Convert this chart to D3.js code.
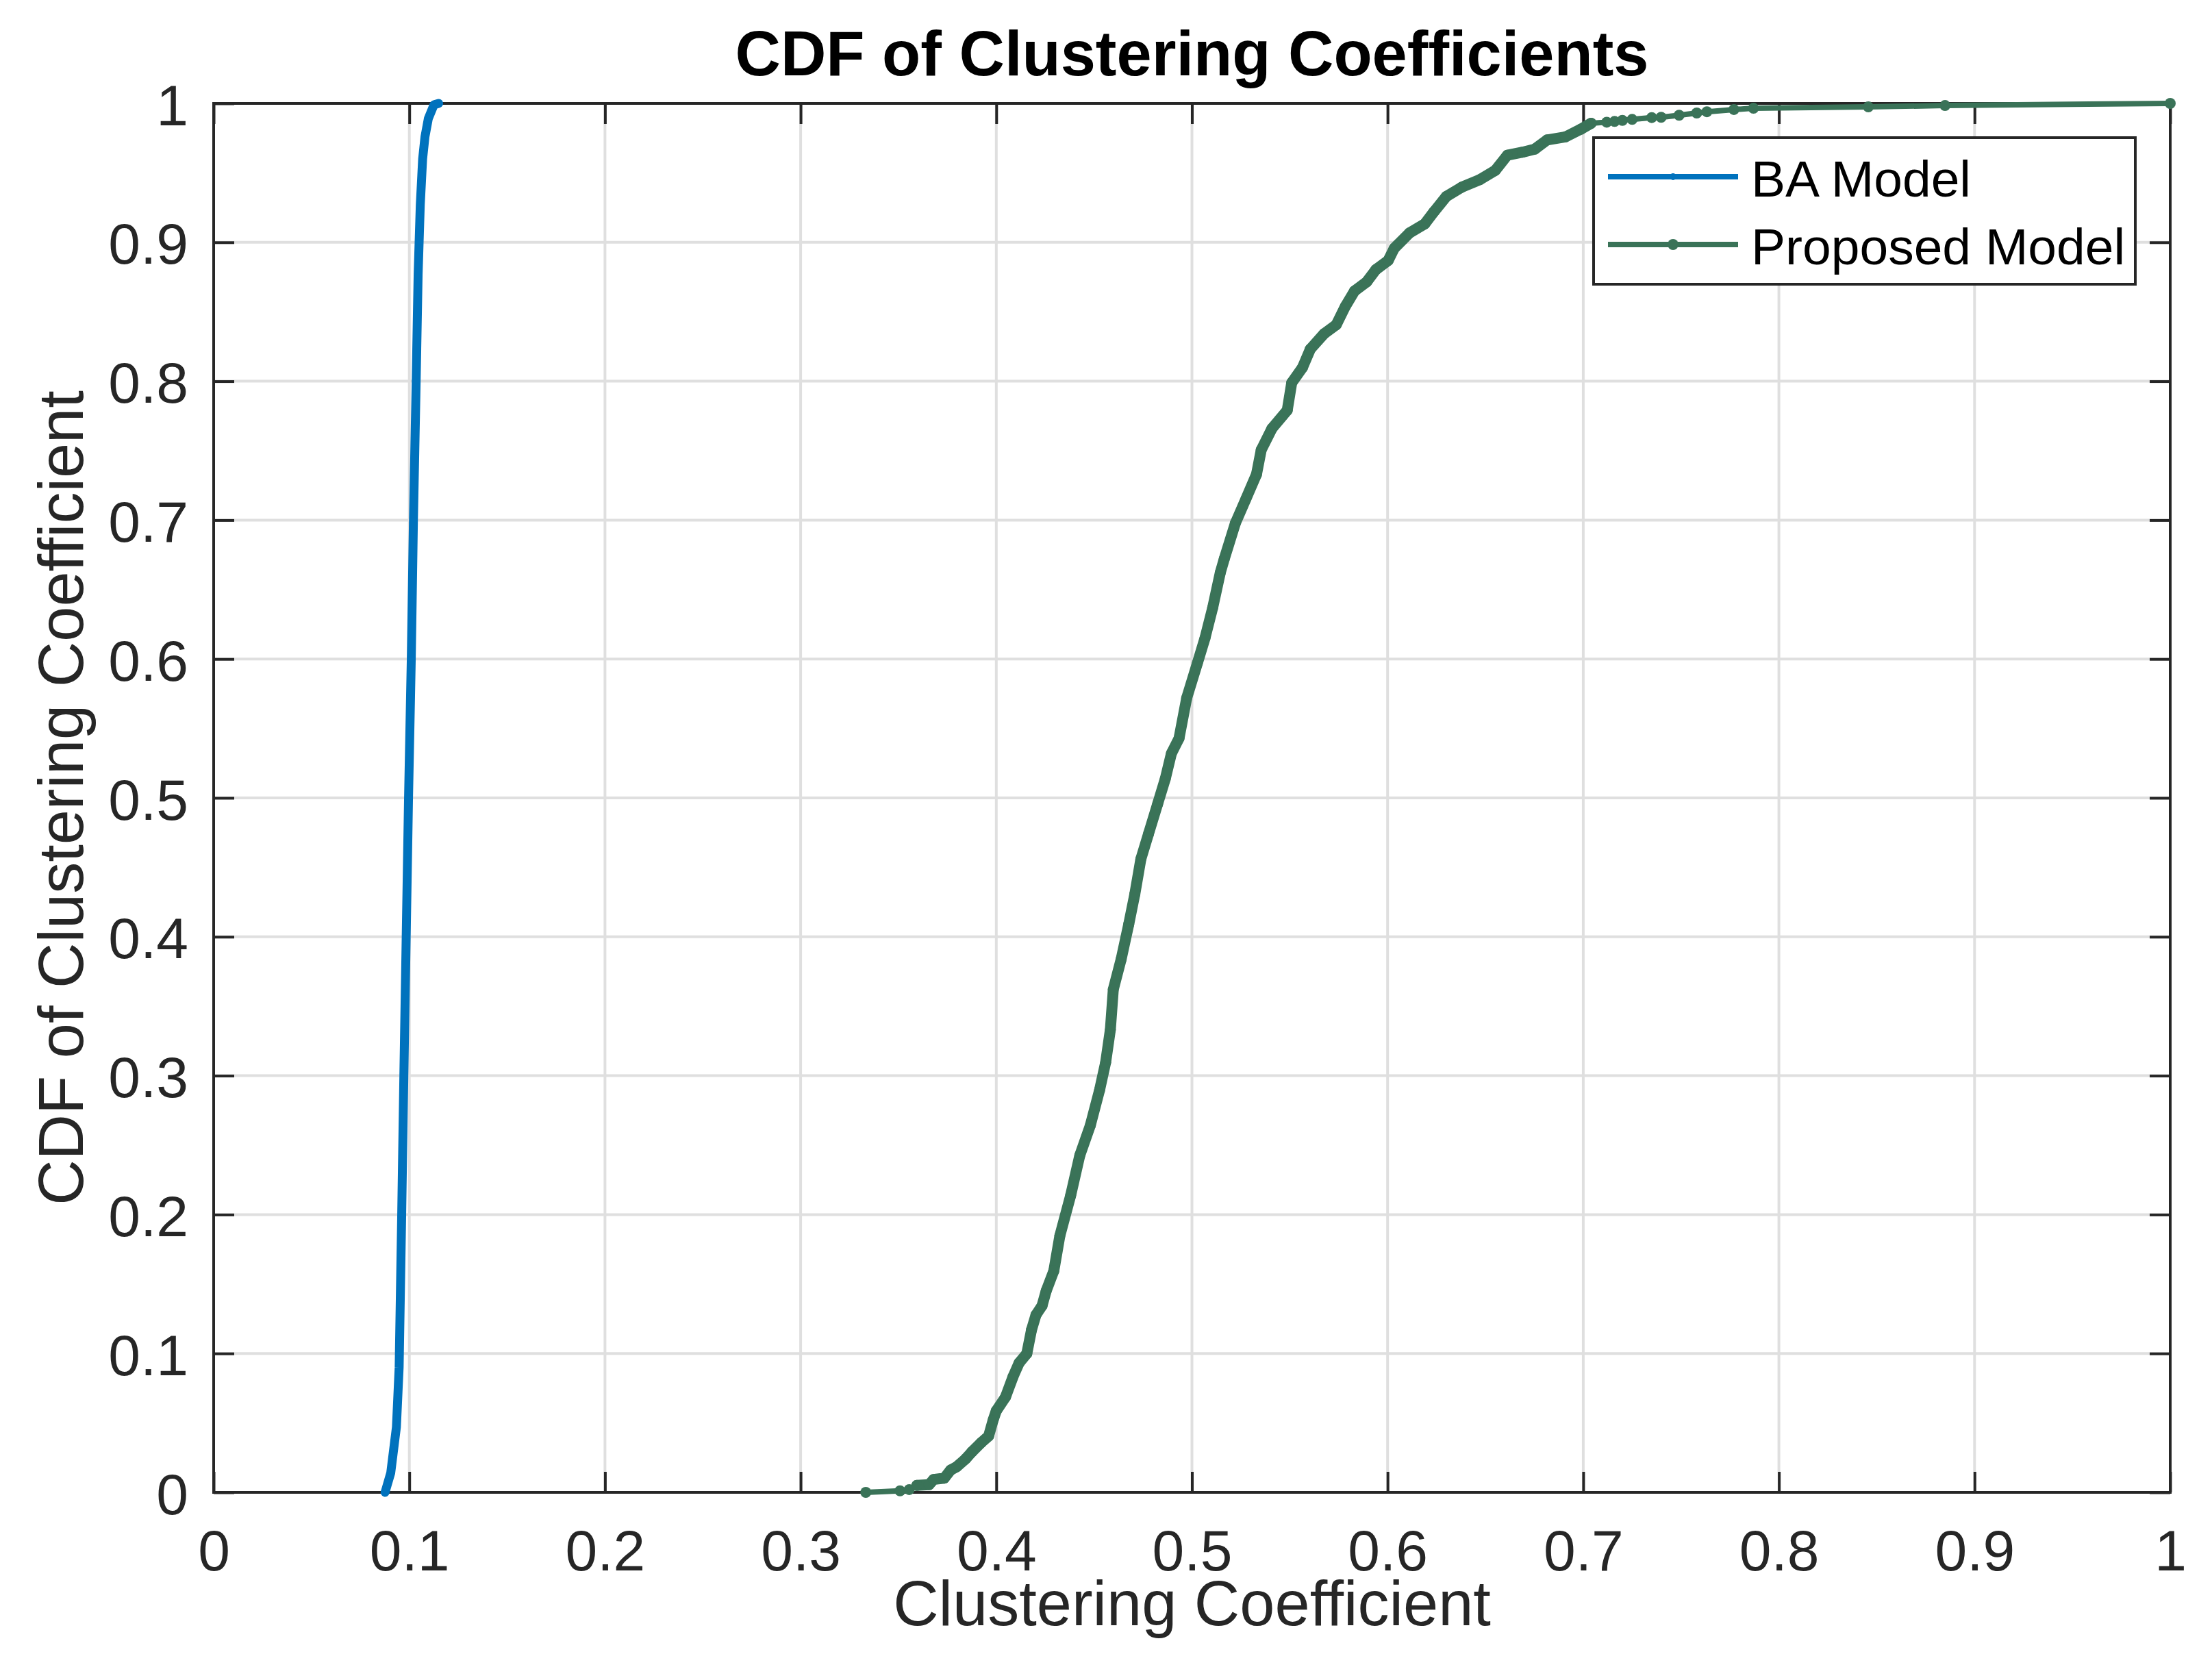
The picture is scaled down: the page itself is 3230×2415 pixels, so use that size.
<!DOCTYPE html>
<html>
<head>
<meta charset="utf-8">
<script src="https://cdn.jsdelivr.net/npm/d3@7"></script>
<style>
  body { margin: 0; background: #fff; }
  text { font-family: "Liberation Sans", Arial, Helvetica, sans-serif; }
</style>
</head>
<body>
<div id="chart"></div>
<script>
// values
var xTicks = [0, 0.1, 0.2, 0.3, 0.4, 0.5, 0.6, 0.7, 0.8, 0.9, 1];
var yTicks = [0, 0.1, 0.2, 0.3, 0.4, 0.5, 0.6, 0.7, 0.8, 0.9, 1];
var xTickLabels = ["0", "0.1", "0.2", "0.3", "0.4", "0.5", "0.6", "0.7", "0.8", "0.9", "1"];
var yTickLabels = ["0", "0.1", "0.2", "0.3", "0.4", "0.5", "0.6", "0.7", "0.8", "0.9", "1"];
var seriesNames = ["BA Model", "Proposed Model"];

var baX = [0.0876, 0.0905, 0.0934, 0.0948, 0.0961, 0.0972, 0.0984, 0.0996, 0.1010, 0.1021, 0.1035, 0.1045, 0.1056, 0.1068, 0.1080, 0.1097, 0.1126, 0.1150];
var baY = [0, 0.014, 0.047, 0.09, 0.2, 0.3, 0.4, 0.5, 0.6, 0.7, 0.8, 0.877, 0.927, 0.96, 0.976, 0.989, 0.999, 1];

var propX = [0.3333, 0.3508, 0.3555, 0.3594, 0.3656, 0.3680, 0.3734, 0.3766, 0.3797, 0.3844, 0.3875, 0.3922, 0.3961, 0.3984, 0.4000,
  0.4047, 0.4086, 0.4117, 0.4156, 0.4180, 0.4203, 0.4234, 0.4255, 0.4294, 0.4325, 0.4380, 0.4427, 0.4481, 0.4528, 0.4559,
  0.4583, 0.4598, 0.4638, 0.4677, 0.4708, 0.4739, 0.4778, 0.4825, 0.4864, 0.4895, 0.4934, 0.4973, 0.5028, 0.5067, 0.5106,
  0.5145, 0.5165, 0.5222, 0.5276, 0.5330, 0.5354, 0.5409, 0.5487, 0.5510, 0.5565, 0.5605, 0.5675, 0.5738, 0.5784, 0.5831,
  0.5893, 0.5940, 0.6003, 0.6034, 0.6112, 0.6190, 0.6237, 0.6300, 0.6378, 0.6471, 0.6550, 0.6612, 0.6690, 0.6752, 0.6815,
  0.6909, 0.6987, 0.7040, 0.7120, 0.7160, 0.7200, 0.7250, 0.7350, 0.7398, 0.7490, 0.7580, 0.7632, 0.7770, 0.7870, 0.8457,
  0.8849, 1.0];
var propY = [0, 0.0011, 0.0020, 0.0050, 0.0055, 0.0093, 0.0102, 0.0160, 0.0184, 0.0242, 0.0291, 0.0357, 0.0406, 0.0521, 0.0587,
  0.0686, 0.0834, 0.0933, 0.0999, 0.1170, 0.1278, 0.1344, 0.1450, 0.1595, 0.1848, 0.2137, 0.2427, 0.2644, 0.2897, 0.3096,
  0.3331, 0.3620, 0.3837, 0.4090, 0.4307, 0.4560, 0.4741, 0.4958, 0.5139, 0.5320, 0.5429, 0.5718, 0.5971, 0.6152, 0.6369,
  0.6622, 0.6720, 0.6978, 0.7153, 0.7330, 0.7505, 0.7660, 0.7790, 0.7989, 0.8099, 0.8231, 0.8341, 0.8407, 0.8539, 0.8649,
  0.8715, 0.8803, 0.8869, 0.8957, 0.9067, 0.9133, 0.9220, 0.9330, 0.9396, 0.9451, 0.9517, 0.9627, 0.9649, 0.9671, 0.9737,
  0.9759, 0.9814, 0.9857, 0.9865, 0.9870, 0.9878, 0.9885, 0.9898, 0.9900, 0.9915, 0.9931, 0.9940, 0.9956, 0.9965, 0.9975,
  0.9985, 1.0];

var W = 3230, H = 2415;
var margin = {top: 151, right: 61, bottom: 236, left: 312},
    width = W - margin.left - margin.right,
    height = H - margin.top - margin.bottom;

var axisColor = "#262626", gridColor = "#dfdfdf",
    blue = "#0072bd", green = "#3a7358";

var x = d3.scaleLinear().domain([0, 1]).range([0, width]);
var y = d3.scaleLinear().domain([0, 1]).range([height, 0]);

var svg = d3.select("#chart").append("svg")
    .attr("width", W).attr("height", H);

var g = svg.append("g").attr("transform", "translate(" + margin.left + "," + margin.top + ")");

// grid
g.append("g").selectAll("line").data(xTicks.slice(1, -1)).enter().append("line")
    .attr("x1", d => x(d)).attr("x2", d => x(d))
    .attr("y1", 0).attr("y2", height)
    .attr("stroke", gridColor).attr("stroke-width", 4);
g.append("g").selectAll("line").data(yTicks.slice(1, -1)).enter().append("line")
    .attr("y1", d => y(d)).attr("y2", d => y(d))
    .attr("x1", 0).attr("x2", width)
    .attr("stroke", gridColor).attr("stroke-width", 4);

// axes, ticks pointing in
var tickLen = 30;
function styleAxis(sel) {
  sel.select(".domain").remove();
  sel.selectAll(".tick line").attr("stroke", axisColor).attr("stroke-width", 4);
  sel.selectAll(".tick text").attr("fill", axisColor).style("font-size", "84px");
}

g.append("g").attr("transform", "translate(0," + height + ")")
  .call(d3.axisBottom(x).tickValues(xTicks).tickSize(-tickLen).tickPadding(54)
        .tickFormat((d, i) => xTickLabels[i]))
  .call(styleAxis);

g.append("g")
  .call(d3.axisLeft(y).tickValues(yTicks).tickSize(-tickLen).tickPadding(37)
        .tickFormat((d, i) => yTickLabels[i]))
  .call(styleAxis)
  .selectAll(".tick text").attr("dy", "0.37em");

g.append("g")
  .call(d3.axisTop(x).tickValues(xTicks).tickSize(-tickLen).tickFormat(""))
  .call(styleAxis);
g.append("g").attr("transform", "translate(" + width + ",0)")
  .call(d3.axisRight(y).tickValues(yTicks).tickSize(-tickLen).tickFormat(""))
  .call(styleAxis);

g.append("rect")
    .attr("width", width).attr("height", height)
    .attr("fill", "none").attr("stroke", axisColor).attr("stroke-width", 4);

// data
var line = d3.line().x(d => x(d[0])).y(d => y(d[1]));
var baData = baX.map((v, i) => [v, baY[i]]);
var propData = propX.map((v, i) => [v, propY[i]]);

g.append("path").datum(baData)
    .attr("d", line).attr("fill", "none")
    .attr("stroke", blue).attr("stroke-width", 13)
    .attr("stroke-linejoin", "round").attr("stroke-linecap", "round");

g.append("path").datum(propData)
    .attr("d", line).attr("fill", "none")
    .attr("stroke", green).attr("stroke-width", 8)
    .attr("stroke-linejoin", "round");
// dense part: markers run together into a thicker band
g.append("path").datum(propData.filter(d => d[1] > 0.004 && d[1] < 0.986))
    .attr("d", line).attr("fill", "none")
    .attr("stroke", green).attr("stroke-width", 16)
    .attr("stroke-linejoin", "round").attr("stroke-linecap", "round");
g.append("g").selectAll("circle").data(propData).enter().append("circle")
    .attr("cx", d => x(d[0])).attr("cy", d => y(d[1]))
    .attr("r", 8).attr("fill", green);

// legend
var leg = svg.append("g").attr("transform", "translate(2327,201)");
leg.append("rect").attr("width", 791).attr("height", 214)
    .attr("fill", "#fff").attr("stroke", axisColor).attr("stroke-width", 4);
var items = leg.selectAll(".item").data(seriesNames).enter().append("g")
    .attr("transform", (d, i) => "translate(0," + (57 + i * 99) + ")");
items.append("line").attr("x1", 21).attr("x2", 211)
    .attr("stroke", (d, i) => i ? green : blue).attr("stroke-width", 8);
items.append("circle").attr("cx", 116).attr("r", (d, i) => i ? 8 : 5)
    .attr("fill", (d, i) => i ? green : blue);
items.append("text").attr("x", 230).attr("y", 29)
    .style("font-size", "75px").attr("fill", "#000")
    .text(d => d);

// title and labels
svg.append("text")
    .attr("x", margin.left + width / 2).attr("y", 110)
    .attr("text-anchor", "middle")
    .style("font-size", "92px").style("font-weight", "bold").attr("fill", "#000")
    .text("CDF of Clustering Coefficients");

svg.append("text")
    .attr("x", margin.left + width / 2).attr("y", 2373)
    .attr("text-anchor", "middle")
    .style("font-size", "92px").attr("fill", axisColor)
    .text("Clustering Coefficient");

svg.append("text")
    .attr("transform", "translate(121," + (margin.top + height / 2) + ") rotate(-90)")
    .attr("text-anchor", "middle")
    .style("font-size", "92px").attr("fill", axisColor)
    .text("CDF of Clustering Coefficient");
</script>
</body>
</html>
